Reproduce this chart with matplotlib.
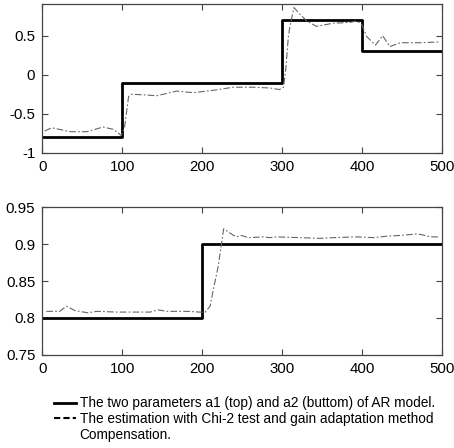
import matplotlib
matplotlib.use('Agg')
import matplotlib.pyplot as plt
from matplotlib.lines import Line2D

plt.rcParams['font.family'] = ['Liberation Sans', 'DejaVu Sans']

# true AR parameters (step changes)
a1_x = [0, 100, 100, 300, 300, 400, 400, 500]
a1_y = [-0.8, -0.8, -0.1, -0.1, 0.7, 0.7, 0.3, 0.3]
a2_x = [0, 200, 200, 500]
a2_y = [0.8, 0.8, 0.9, 0.9]

# estimated a1
est1_x = [3, 12, 35, 56, 76, 89, 99, 103, 108, 112, 131, 143, 168, 189, 214,
          239, 264, 285, 297, 302, 305, 308, 310, 315, 323, 331, 343, 364,
          385, 394, 400, 406, 417, 426, 435, 448, 473, 498]
est1_y = [-0.72, -0.68, -0.73, -0.73, -0.67, -0.70, -0.78, -0.67, -0.28, -0.25,
          -0.26, -0.27, -0.21, -0.23, -0.20, -0.16, -0.16, -0.17, -0.19, -0.16,
          0.10, 0.49, 0.62, 0.86, 0.77, 0.69, 0.62, 0.66, 0.67, 0.69, 0.64,
          0.49, 0.38, 0.50, 0.36, 0.41, 0.41, 0.42]

# estimated a2
est2_x = [5, 22, 30, 41, 57, 68, 93, 122, 135, 145, 156, 181, 197, 204, 210,
          214, 220, 227, 235, 243, 249, 258, 277, 285, 293, 323, 348, 364,
          394, 415, 431, 448, 469, 475, 486, 498]
est2_y = [0.809, 0.809, 0.816, 0.810, 0.807, 0.809, 0.808, 0.808, 0.808, 0.811,
          0.809, 0.809, 0.808, 0.808, 0.816, 0.838, 0.869, 0.921, 0.915, 0.910,
          0.912, 0.909, 0.910, 0.909, 0.910, 0.909, 0.908, 0.909, 0.910, 0.909,
          0.911, 0.912, 0.914, 0.913, 0.910, 0.910]

legend_labels = ['The two parameters a1 (top) and a2 (buttom) of AR model.',
                 'The estimation with Chi-2 test and gain adaptation method',
                 'Compensation.']

fig = plt.figure(figsize=(4.54, 4.48), dpi=100)
ax1 = fig.add_axes([0.0932, 0.659, 0.8798, 0.331])
ax2 = fig.add_axes([0.0932, 0.208, 0.8798, 0.329])

est_style = dict(color='#666666', lw=0.8, linestyle=(0, (6, 2, 1.5, 2)))

ax1.plot(a1_x, a1_y, color='black', lw=2)
ax1.plot(est1_x, est1_y, **est_style)
ax1.set_ylim(-1, 0.9)
ax1.set_yticks([-1, -0.5, 0, 0.5])
ax1.set_yticklabels(['-1', '-0.5', '0', '0.5'])

ax2.plot(a2_x, a2_y, color='black', lw=2)
ax2.plot(est2_x, est2_y, **est_style)
ax2.set_ylim(0.75, 0.95)
ax2.set_yticks([0.75, 0.8, 0.85, 0.9, 0.95])
ax2.set_yticklabels(['0.75', '0.8', '0.85', '0.9', '0.95'])

for ax in (ax1, ax2):
    ax.set_xlim(0, 500)
    ax.set_xticks([0, 100, 200, 300, 400, 500])
    ax.tick_params(direction='in', top=True, right=True, length=4,
                   width=0.8, labelsize=10.8, pad=5, color='#444444')
    for sp in ax.spines.values():
        sp.set_linewidth(0.9)
        sp.set_color('#444444')

handles = [Line2D([], [], color='black', lw=2),
           Line2D([], [], color='black', lw=1.5, linestyle=(0, (3, 1.5))),
           Line2D([], [], linestyle='none')]
fig.legend(handles, legend_labels, loc='upper left',
           bbox_to_anchor=(0.12, 0.115), frameon=False, fontsize=9.8,
           handlelength=1.6, handletextpad=0.25, labelspacing=0.12,
           borderpad=0, borderaxespad=0)

fig.savefig('out.png', dpi=100)
